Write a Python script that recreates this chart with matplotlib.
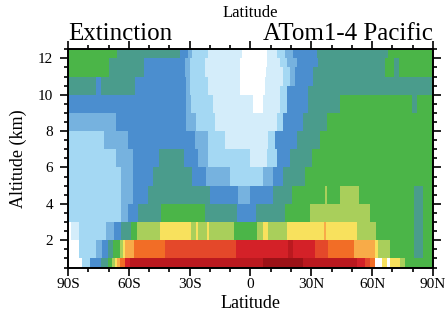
import numpy as np
import matplotlib
matplotlib.use("Agg")
import matplotlib.pyplot as plt
from matplotlib.colors import ListedColormap, BoundaryNorm
from matplotlib.ticker import MultipleLocator

plt.rcParams['font.family'] = ['Liberation Serif', 'DejaVu Serif']

# colour classes of the filled extinction field, low -> high
class_codes = "WVLMBTGYyoORrdD"
class_colors = ['#ffffff', '#d4edfa', '#a4d8f3', '#76b2df', '#4b8ecf', '#4a9c8c',
                '#4bb548', '#a9cf5b', '#f8e15d', '#f8ab48', '#f26d26', '#e4482a',
                '#d42128', '#bb191f', '#9c1217']

# altitude bands (km) and, for each, the class runs along latitude: (end_lat, class)
bands = [
    (0.5, 1.0, [(-83, 'W'), (-79.3, 'L'), (-73.5, 'B'), (-70.5, 'T'), (-68.2, 'G'), (-67, 'Y'),
                (-66, 'y'), (-64.4, 'o'), (-62, 'O'), (-59.4, 'r'), (6, 'd'), (26, 'D'),
                (52.3, 'd'), (56.4, 'r'), (58.9, 'R'), (61.4, 'O'), (64.7, 'W'), (67.1, 'y'),
                (68.8, 'W'), (73.7, 'y'), (76.2, 'Y'), (90, 'G')]),
    (1.0, 2.0, [(-84.5, 'W'), (-76, 'L'), (-73.2, 'M'), (-70.2, 'B'), (-67.8, 'T'), (-64.5, 'G'),
                (-63, 'Y'), (-62, 'y'), (-57.5, 'o'), (-42.2, 'O'), (-7, 'R'), (18.6, 'r'),
                (21, 'd'), (31.7, 'r'), (38.3, 'R'), (51, 'O'), (61.4, 'o'), (63, 'y'),
                (68.8, 'Y'), (80.4, 'G'), (85, 'T'), (90, 'G')]),
    (2.0, 3.0, [(-88.5, 'W'), (-84.6, 'V'), (-71.3, 'L'), (-67.2, 'M'), (-63.9, 'B'), (-59, 'T'),
                (-56.1, 'G'), (-44.6, 'Y'), (-29.2, 'y'), (-26.7, 'Y'), (-25.9, 'y'), (-21.5, 'Y'),
                (-20.7, 'y'), (-8, 'Y'), (3, 'G'), (6.3, 'Y'), (8.8, 'y'), (17.8, 'Y'), (36, 'y'),
                (37.2, 'o'), (52.4, 'y'), (62, 'Y'), (80.4, 'G'), (85, 'T'), (90, 'G')]),
    (3.0, 4.0, [(-63.9, 'L'), (-60.6, 'M'), (-55.6, 'B'), (-44.3, 'T'), (-22.5, 'G'), (-6.5, 'T'),
                (2.5, 'B'), (17.1, 'T'), (29.3, 'G'), (59, 'Y'), (80.4, 'G'), (85, 'T'), (90, 'G')]),
    (4.0, 5.0, [(-63.9, 'L'), (-58.1, 'M'), (-50.7, 'B'), (-20.2, 'T'), (-6.2, 'B'), (0, 'M'),
                (11.2, 'B'), (20.3, 'T'), (36.7, 'G'), (37.9, 'Y'), (44.1, 'G'), (53.3, 'Y'),
                (80.4, 'G'), (85, 'T'), (90, 'G')]),
    (5.0, 6.0, [(-63.9, 'L'), (-58.1, 'M'), (-48, 'B'), (-29, 'T'), (-22, 'B'), (-10, 'M'),
                (6.2, 'L'), (11.2, 'M'), (16.2, 'B'), (26.8, 'T'), (90, 'G')]),
    (6.0, 7.0, [(-66.3, 'L'), (-58.1, 'M'), (-45, 'B'), (-33, 'T'), (-26, 'B'), (-21, 'M'),
                (0, 'L'), (8, 'V'), (12.9, 'L'), (19.5, 'B'), (30.2, 'T'), (90, 'G')]),
    (7.0, 8.0, [(-72.1, 'L'), (-60.6, 'M'), (-27.5, 'B'), (-21, 'M'), (-12.7, 'L'), (8.8, 'V'),
                (12, 'L'), (22.7, 'B'), (34.3, 'T'), (90, 'G')]),
    (8.0, 9.0, [(-66.3, 'M'), (-31.7, 'B'), (-26.7, 'M'), (-17.7, 'L'), (12.9, 'V'), (16.2, 'L'),
                (26, 'B'), (37.5, 'T'), (90, 'G')]),
    (9.0, 10.0, [(-31.7, 'B'), (-29.2, 'M'), (-18.5, 'L'), (1.2, 'V'), (6.3, 'W'), (14.5, 'V'),
                 (17.8, 'L'), (28.5, 'B'), (44, 'T'), (79.6, 'G'), (82, 'T'), (90, 'G')]),
    (10.0, 10.5, [(-76.2, 'T'), (-73.7, 'B'), (-57, 'T'), (-31.7, 'B'), (-30, 'M'), (-21, 'L'),
                  (-5, 'V'), (7, 'W'), (14.5, 'V'), (17.8, 'L'), (28.5, 'B'), (90, 'T')]),
    (10.5, 11.0, [(-76.2, 'T'), (-73.7, 'B'), (-57, 'T'), (-31.7, 'B'), (-30, 'M'), (-21, 'L'),
                  (-5, 'V'), (7, 'W'), (16, 'V'), (19.5, 'L'), (22, 'M'), (31, 'B'), (90, 'T')]),
    (11.0, 11.5, [(-69.6, 'G'), (-52.4, 'T'), (-32.5, 'B'), (-30, 'M'), (-22.6, 'L'), (-5, 'V'),
                  (7.5, 'W'), (16, 'V'), (19.5, 'L'), (22, 'M'), (31, 'B'), (66.4, 'T'),
                  (70.6, 'G'), (73, 'T'), (90, 'G')]),
    (11.5, 12.0, [(-69.6, 'G'), (-52.4, 'T'), (-32.5, 'B'), (-30, 'M'), (-22.6, 'L'), (-5, 'V'),
                  (8, 'W'), (14.5, 'V'), (17.8, 'L'), (22.7, 'M'), (33.3, 'B'), (66.4, 'T'),
                  (70.6, 'G'), (73, 'T'), (90, 'G')]),
    (12.0, 12.5, [(-66, 'G'), (-35, 'T'), (-31, 'B'), (-29, 'M'), (-21, 'L'), (-4, 'V'), (8, 'W'),
                  (13, 'V'), (17, 'L'), (21, 'M'), (32.6, 'B'), (68, 'T'), (90, 'G')]),
]

lat_ticks = [-90, -60, -30, 0, 30, 60, 90]
lat_labels = ['90S', '60S', '30S', '0', '30N', '60N', '90N']
alt_ticks = [2, 4, 6, 8, 10, 12]

# common latitude edges for all bands, then a class grid on them
x_edges = sorted({-90.0} | {float(e) for _, _, segs in bands for e, _ in segs})
y_edges = [bands[0][0]] + [hi for _, hi, _ in bands]
x_mid = 0.5 * (np.array(x_edges[:-1]) + np.array(x_edges[1:]))
grid = np.zeros((len(bands), len(x_mid)))
for i, (_, _, segs) in enumerate(bands):
    ends = np.array([e for e, _ in segs])
    codes = [class_codes.index(c) for _, c in segs]
    idx = np.searchsorted(ends, x_mid)
    grid[i] = [codes[k] for k in idx]

cmap = ListedColormap(class_colors)
norm = BoundaryNorm(np.arange(-0.5, len(class_colors) + 0.5), cmap.N)

fig = plt.figure(figsize=(4.47, 3.25), dpi=100)
ax = fig.add_axes([0.1521, 0.1769, 0.8166, 0.6714])
ax.pcolormesh(x_edges, y_edges, grid, cmap=cmap, norm=norm, shading='flat')

ax.set_xlim(-90, 90)
ax.set_ylim(0.5, 12.5)
ax.set_xticks(lat_ticks)
ax.set_xticklabels(lat_labels)
ax.set_yticks(alt_ticks)
ax.xaxis.set_minor_locator(MultipleLocator(10))
ax.yaxis.set_minor_locator(MultipleLocator(0.5))
ax.tick_params(which='both', direction='out', top=True, right=True, width=1.2,
               labelsize=11)
ax.tick_params(which='major', length=5.5)
ax.tick_params(which='minor', length=3)
ax.tick_params(axis='x', pad=2)
ax.tick_params(axis='y', pad=5)
for s in ax.spines.values():
    s.set_linewidth(1.4)

ax.set_xlabel('Latitude', fontsize=13, labelpad=3)
ax.set_ylabel('Altitude (km)', fontsize=13, labelpad=8)

fig.text(0.56, 0.947, 'Latitude', ha='center', va='baseline', fontsize=12)
fig.text(0.1521, 0.878, 'Extinction', ha='left', va='baseline', fontsize=18)
fig.text(0.9687, 0.878, 'ATom1-4 Pacific', ha='right', va='baseline', fontsize=18)

fig.savefig('out.png', dpi=100)
